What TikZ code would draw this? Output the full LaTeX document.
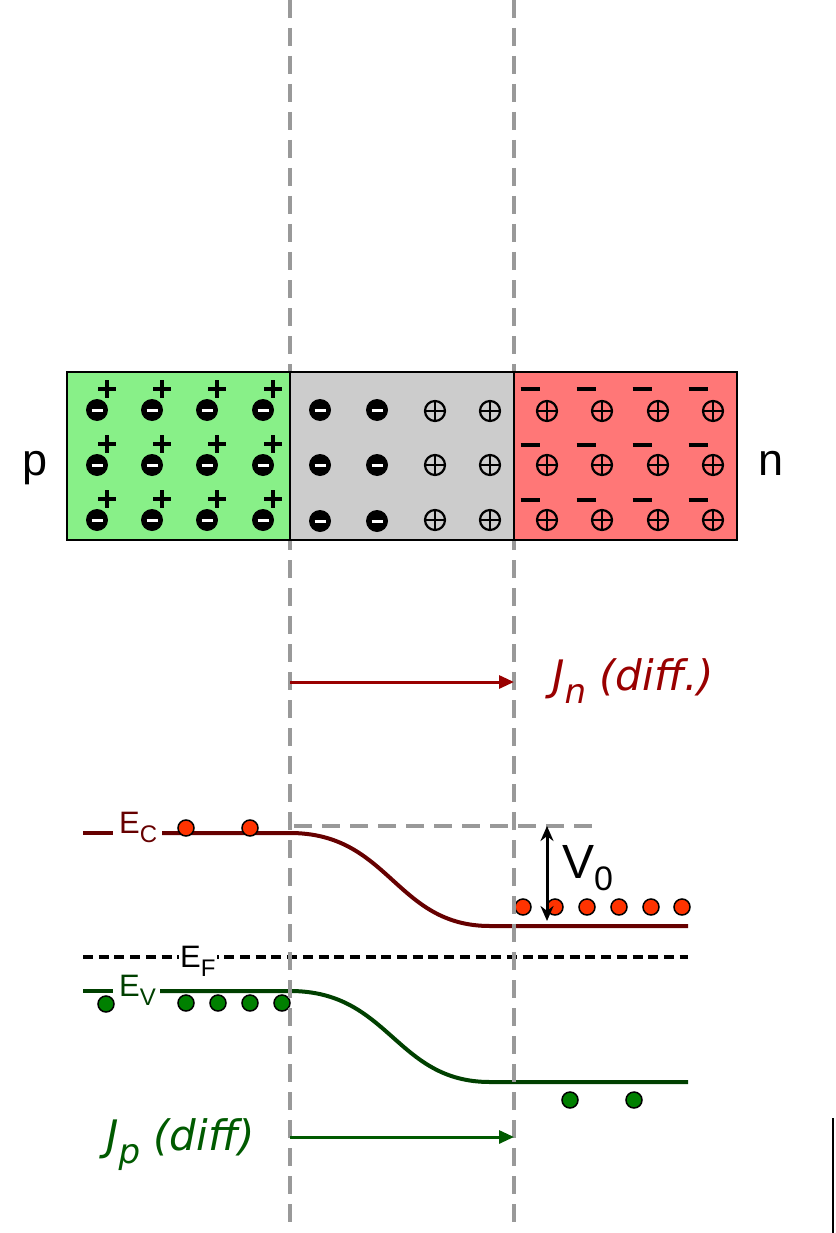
\documentclass[tikz,border=0pt]{standalone}
\usepackage{fontspec}
\setmainfont{Liberation Sans}
\newfontfamily\jfont{DejaVu Sans}
\usepackage{xcolor}
\definecolor{pgreen}{RGB}{136, 240, 136}
\definecolor{nred}{RGB}{255, 119, 119}
\definecolor{deplgray}{RGB}{204, 204, 204}
\definecolor{guidegray}{RGB}{153, 153, 153}
\definecolor{bandred}{RGB}{102, 0, 0}
\definecolor{bandgreen}{RGB}{0, 64, 0}
\definecolor{currred}{RGB}{153, 0, 0}
\definecolor{currgreen}{RGB}{0, 90, 0}
\definecolor{electron}{RGB}{255, 51, 0}
\definecolor{hole}{RGB}{0, 128, 0}
\usepackage{tikz}
\usetikzlibrary{arrows.meta, positioning, calc}

\newcommand{\elevel}[2]{{\fontsize{31}{34}\selectfont #1}\raisebox{-9pt}{\fontsize{24}{28}\selectfont #2}}

\begin{document}
\begin{tikzpicture}[x=1pt, y=-1pt, >=Triangle,
    guide/.style={color=guidegray, line width=3.5pt, dash pattern=on 18pt off 10pt},
    band/.style={line width=4pt},
    carrier/.style={draw=black, line width=1.5pt},
    current/.style={line width=3pt, -{Triangle[length=15pt, width=13pt]}},
    region/.style={draw=black, line width=2pt}]
    \useasboundingbox (0,0) rectangle (835,1233);

    % junction edges
    \coordinate (jlTop) at (290,0);
    \coordinate (jlBot) at (290,1224);
    \coordinate (jrTop) at (514,0);
    \coordinate (jrBot) at (514,1224);

    % band diagram
    \draw[band, color=bandred] (83,833) -- (113,833);
    \draw[band, color=bandred] (162,833) -- (290,833) .. controls (390,833) and (395,926) .. (490,926) -- (688,926);
    \draw[band, color=bandgreen] (83,991) -- (113,991);
    \draw[band, color=bandgreen] (160,991) -- (290,991) .. controls (390,991) and (395,1082) .. (490,1082) -- (688,1082);
    \draw[line width=3.5pt, dash pattern=on 10pt off 5.7pt] (83,957) -- (688,957);

    \node[anchor=base west, inner sep=0pt] (ecLabel) at (119,833) {\color{bandred}\elevel{E}{C}};
    \node[anchor=base west, inner sep=1pt, fill=white] (efLabel) at (179,967) {\elevel{E}{F}};
    \node[anchor=base west, inner sep=0pt] (evLabel) at (119,996) {\color{bandgreen}\elevel{E}{V}};

    \foreach \x in {186,250}
        \filldraw[carrier, fill=electron] (\x,828) circle (8pt);
    \foreach \x in {523,555,587,619,651,682}
        \filldraw[carrier, fill=electron] (\x,907) circle (8pt);
    \foreach \x in {186,218,250,282}
        \filldraw[carrier, fill=hole] (\x,1003) circle (8pt);
    \filldraw[carrier, fill=hole] (106,1004) circle (8pt);
    \foreach \x in {570,634}
        \filldraw[carrier, fill=hole] (\x,1100) circle (8pt);

    % built-in potential
    \coordinate (refEnd) at (595,826);
    \coordinate (v0Top) at (547,826);
    \coordinate (v0Bot) at (547,921);
    \draw[color=guidegray, line width=3.5pt, dash pattern=on 18pt off 10pt] (294,826) -- (refEnd);
    \draw[line width=3pt, {Stealth[length=15pt, width=13pt]}-{Stealth[length=15pt, width=13pt]}] (v0Top) -- (v0Bot);
    \node[anchor=base west, inner sep=0pt] (v0Label) at (562,878) {{\fontsize{48}{56}\selectfont V}\raisebox{-12pt}{\fontsize{34}{40}\selectfont 0}};

    % dashed junction edges
    \draw[guide] (jlTop) -- (jlBot);
    \draw[guide] (jrTop) -- (jrBot);

    % p, depletion and n regions
    \filldraw[region, fill=pgreen] (67,372) rectangle (290,540);
    \filldraw[region, fill=deplgray] (290,372) rectangle (514,540);
    \filldraw[region, fill=nred] (514,372) rectangle (737,540);

    \foreach \x in {97,152,207,263}{
        \foreach \y in {410,465,520}{
            \fill (\x,\y) circle (11pt);
            \draw[white, line width=3pt] (\x-5.5,\y) -- (\x+5.5,\y);
            \draw[line width=4pt] (\x+1,\y-21) -- (\x+19,\y-21) (\x+10,\y-30) -- (\x+10,\y-12);
        }
    }
    \foreach \x in {320,377}{
        \foreach \y in {410,465,521}{
            \fill (\x,\y) circle (11pt);
            \draw[white, line width=3pt] (\x-5.5,\y) -- (\x+5.5,\y);
        }
    }
    \foreach \x in {435,490,547,602,658,713}{
        \foreach \y in {411,465,520}{
            \draw[line width=2.2pt] (\x,\y) circle (10pt);
            \draw[line width=2.2pt] (\x-10,\y) -- (\x+10,\y) (\x,\y-10) -- (\x,\y+10);
        }
    }
    \foreach \x in {530,586,642,698}{
        \foreach \y in {389,445,500}{
            \draw[line width=4.5pt] (\x-9.5,\y) -- (\x+9.5,\y);
        }
    }

    \node[anchor=base west, inner sep=0pt] (pLabel) at (22,475) {\fontsize{45}{54}\selectfont p};
    \node[anchor=base west, inner sep=0pt] (nLabel) at (758,475) {\fontsize{45}{54}\selectfont n};

    % diffusion currents
    \coordinate (jnStart) at (290,682);
    \coordinate (jnEnd) at (514,682);
    \coordinate (jpStart) at (290,1137);
    \coordinate (jpEnd) at (514,1137);
    \draw[current, color=currred] (jnStart) -- (jnEnd);
    \draw[current, color=currgreen] (jpStart) -- (jpEnd);
    \node[anchor=base west, inner sep=0pt, color=currred] (jnLabel) at (552,690)
        {\jfont\itshape\fontsize{42}{48}\selectfont J\raisebox{-13pt}{\fontsize{34}{40}\selectfont n} (diff.)};
    \node[anchor=base west, inner sep=0pt, color=currgreen] (jpLabel) at (106,1150)
        {\jfont\itshape\fontsize{42}{48}\selectfont J\raisebox{-13pt}{\fontsize{34}{40}\selectfont p} (diff)};

    % edge mark at bottom right
    \coordinate (markTop) at (833,1118);
    \coordinate (markBot) at (833,1233);
    \draw[line width=1.5pt] (markTop) -- (markBot);
\end{tikzpicture}
\end{document}
